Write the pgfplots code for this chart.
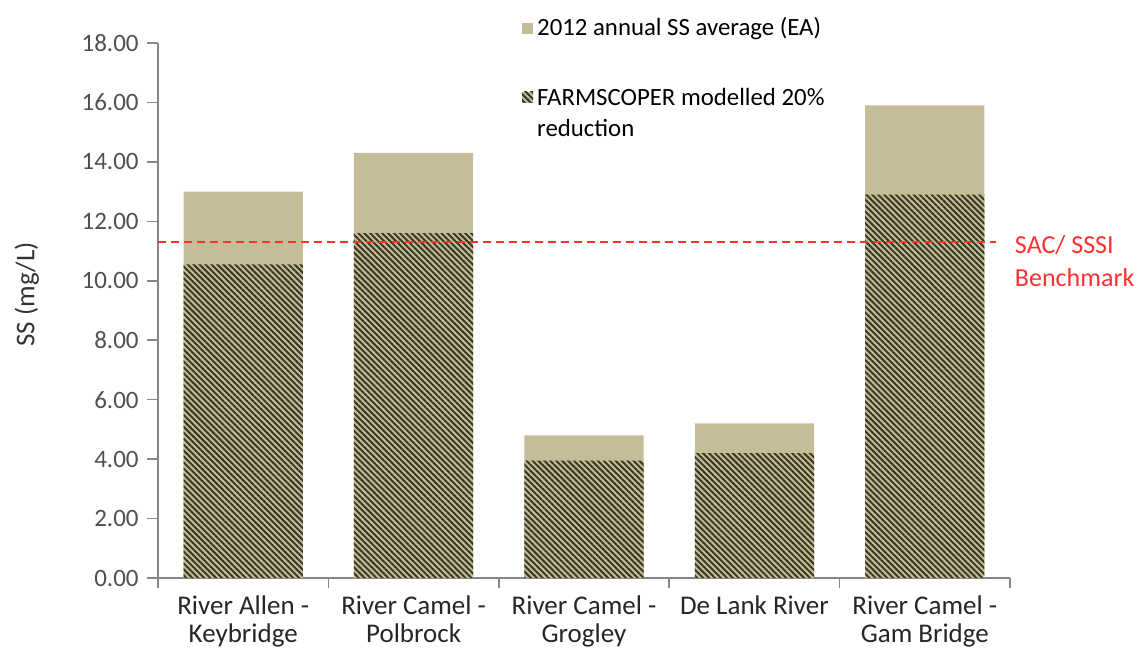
\documentclass[border=0pt]{standalone}
\usepackage{fontspec}
\setmainfont{Carlito}
\usepackage{pgfplots}
\pgfplotsset{compat=1.18}
\usetikzlibrary{patterns.meta}
\definecolor{tanc}{HTML}{C4BD97}
\definecolor{hatchc}{HTML}{3B3826}
\definecolor{axisgray}{HTML}{868686}
\definecolor{labgray}{HTML}{505050}
\definecolor{bench}{HTML}{FF3030}
\pgfplotsset{
  squareimg/.style={legend image code/.code={\path[##1] (0pt,-2.75pt) rectangle (5.5pt,2.75pt);}},
  shiftedimg/.style={legend image code/.code={\path (0pt,11.75pt) (0pt,-11.75pt); \path[##1] (0pt,-11.75pt) rectangle (5.5pt,-6.25pt);}},
}
\begin{document}
\fontsize{12}{14.4}\selectfont
\begin{tikzpicture}
\useasboundingbox (-79pt,-34.5pt) rectangle (492.5pt,289pt);
\begin{axis}[
  scale only axis, width=426pt, height=267.5pt,
  anchor=south west, at={(0,0)},
  clip=false,
  xmin=-0.5, xmax=4.5, ymin=0, ymax=18,
  axis x line=bottom, axis y line=left,
  axis line style={axisgray, line width=0.8pt, -},
  tick align=outside,
  ytick={0,2,...,18},
  major tick length=5.5pt,
  minor tick length=5pt,
  ytick style={axisgray, line width=0.8pt},
  yticklabel style={/pgf/number format/.cd, fixed, fixed zerofill, precision=2, assume math mode=true, /tikz/.cd, font=\fontsize{12.5}{14}\selectfont, text=labgray},
  xtick={0,1,2,3,4},
  xticklabels={River Allen -\\Keybridge, River Camel -\\Polbrock, River Camel -\\Grogley, De Lank River, River Camel -\\Gam Bridge},
  major x tick style={draw=none},
  minor xtick={-0.5,0.5,1.5,2.5,3.5,4.5},
  minor x tick style={axisgray, line width=0.8pt},
  xticklabel style={align=center, text=black!85, font=\fontsize{13.5}{14}\selectfont, yshift=1pt},
  ylabel={SS (mg/L)},
  ylabel style={at={(axis description cs:-0.154,0.53)}, anchor=center, text=black!80, font=\fontsize{13.5}{15}\selectfont},
  legend style={draw=none, fill=none, at={(axis description cs:0.427,1.0556)}, anchor=north west, row sep=1pt, inner sep=0pt, font=\fontsize{12.4}{14}\selectfont},
  legend cell align=left,
  squareimg,
]
\addplot[ybar, bar width=0.7, bar shift=0pt, fill=tanc, draw=none]
  coordinates {(0,13.0) (1,14.3) (2,4.8) (3,5.2) (4,15.9)};
\addlegendentry{2012 annual SS average (EA)}
\addplot[ybar, bar width=0.7, bar shift=0pt, fill=tanc, draw=none,
  postaction={pattern={Lines[angle=-45,distance=2.1pt,line width=1pt]}, pattern color=hatchc},
  shiftedimg]
  coordinates {(0,10.55) (1,11.6) (2,3.95) (3,4.2) (4,12.9)};
\addlegendentry{\rule{0pt}{28pt}FARMSCOPER modelled 20\%}
\addlegendimage{empty legend}
\addlegendentry{reduction}
\addplot[bench, dash pattern=on 4pt off 2.5pt, line width=1.3pt, forget plot]
  coordinates {(-0.5,11.3) (4.42,11.3)};
\node[text=bench, anchor=west, align=left, font=\fontsize{13}{16.5}\selectfont] at (axis cs:4.48,10.67) {SAC/ SSSI\\Benchmark};
\end{axis}
\end{tikzpicture}
\end{document}
